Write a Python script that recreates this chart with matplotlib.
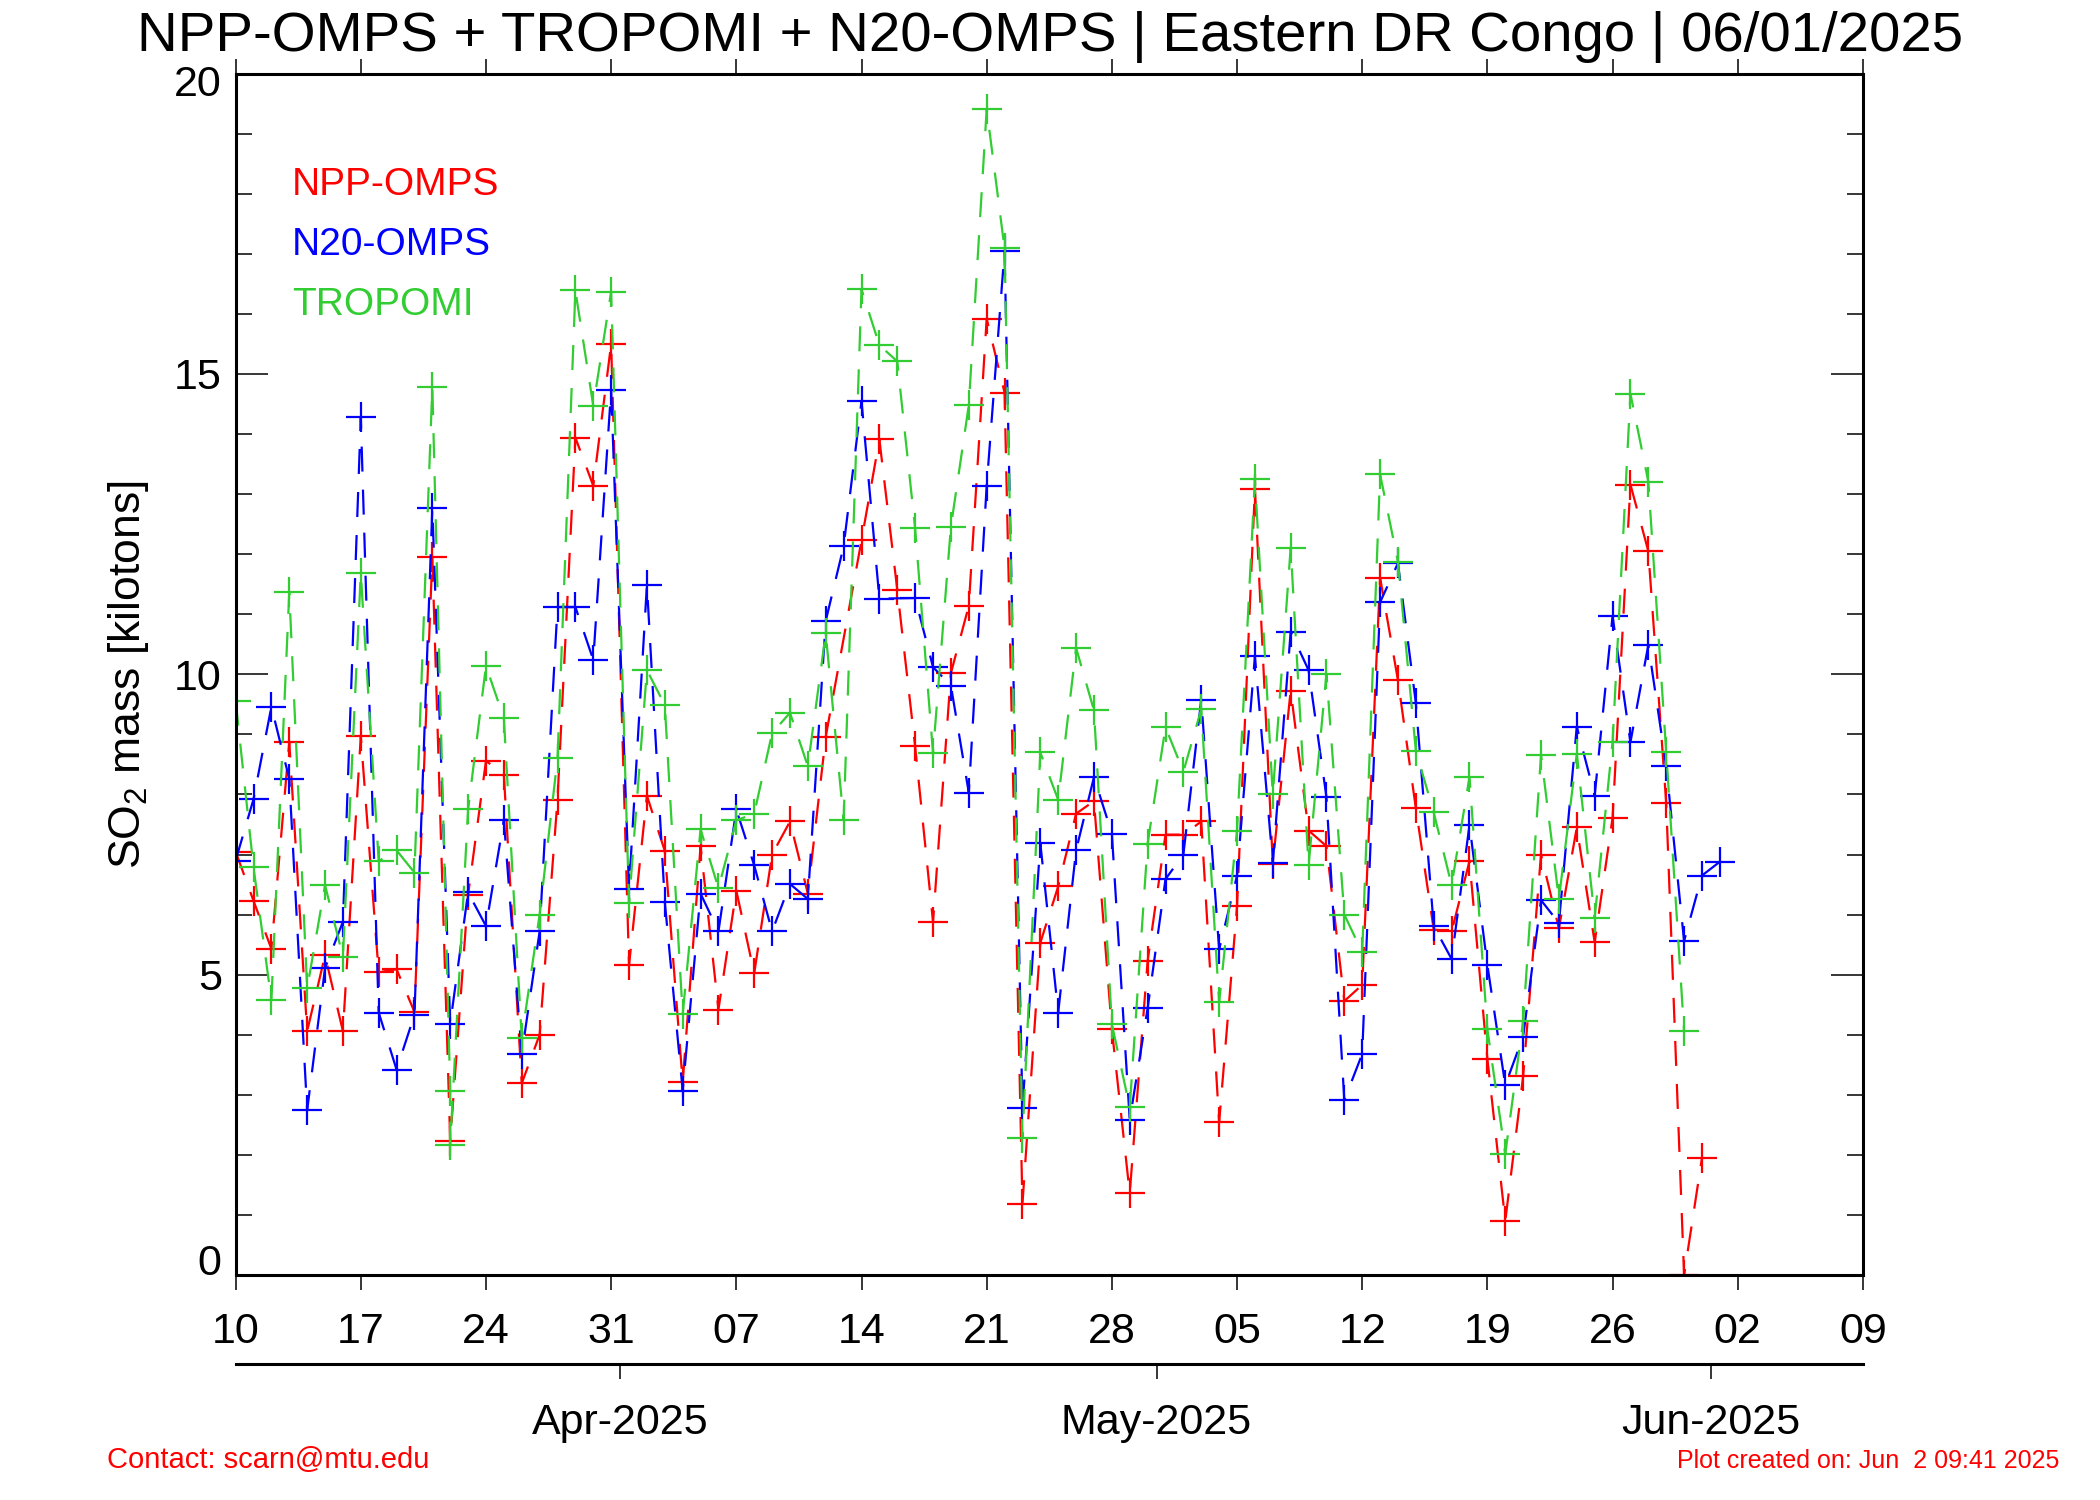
import numpy as np
import matplotlib
matplotlib.use("Agg")
import matplotlib.pyplot as plt
import matplotlib.dates as mdates
import matplotlib.transforms as mtransforms
from matplotlib.ticker import MultipleLocator, FixedLocator

plt.rcParams["font.family"] = ["Liberation Sans", "DejaVu Sans"]
plt.rcParams["mathtext.fontset"] = "custom"
plt.rcParams["mathtext.rm"] = "Liberation Sans"
plt.rcParams["lines.scale_dashes"] = False

# -------------------------------------------------------------
# data: day offset from 10 Mar 2025, SO2 mass in kilotons
# -------------------------------------------------------------
START = np.datetime64("2025-03-10")

npp_days = list(range(0, 34)) + list(range(35, 83))
npp_vals = [7.05, 6.23, 5.43, 8.87, 4.06, 5.32, 4.06, 8.97, 5.04, 5.09,
            4.38, 11.96, 2.23, 6.33, 8.56, 8.33, 3.19, 4.00, 7.91, 13.94,
            13.14, 15.50, 5.16, 7.98, 7.06, 3.21, 7.14, 4.42, 6.40, 5.02,
            7.00, 7.55, 6.35, 8.96,
            12.23, 13.91, 11.41, 8.80, 5.88, 10.02, 11.14, 15.92, 14.69, 1.18,
            5.53, 6.47, 7.68, 7.89, 4.09, 1.36, 5.23, 7.33, 7.33, 7.55,
            2.54, 6.14, 13.09, 6.85, 9.73, 7.40, 7.14, 4.56, 4.83, 11.61,
            9.90, 7.77, 5.75, 5.72, 6.89, 3.60, 0.90, 3.31, 7.00, 5.77,
            7.45, 5.54, 7.61, 13.16, 12.05, 7.86, 0.00, 1.95]

n20_days = list(range(0, 37)) + list(range(38, 84))
n20_vals = [6.90, 7.92, 9.46, 8.26, 2.74, 5.11, 5.88, 14.28, 4.37, 3.42,
            4.33, 12.77, 4.18, 6.37, 5.81, 7.57, 3.68, 5.72, 11.12, 11.12,
            10.24, 14.74, 6.43, 11.49, 6.21, 3.07, 6.35, 5.72, 7.75, 6.82,
            5.72, 6.51, 6.26, 10.89, 12.13, 14.55, 11.26,
            11.27, 10.12, 9.81, 8.03, 13.14, 17.05, 2.78, 7.19, 4.37, 7.07,
            8.29, 7.35, 2.58, 4.44, 6.59, 7.00, 9.58, 5.42, 6.65, 10.30,
            6.86, 10.71, 10.07, 7.96, 2.91, 3.68, 11.20, 11.85, 9.52, 5.81,
            5.26, 7.49, 5.16, 3.16, 3.97, 6.24, 5.86, 9.13, 7.98, 10.97,
            8.87, 10.49, 8.47, 5.56, 6.65, 6.88]

tro_days = list(range(0, 13)) + [12] + list(range(13, 82))
tro_vals = [9.56, 6.79, 4.57, 11.37, 4.77, 6.49, 5.30, 11.68, 6.89, 7.07,
            6.70, 14.79, 3.06, 2.16, 7.75, 10.14, 9.27, 3.95, 6.00, 8.60,
            16.39, 14.47, 16.37, 6.19, 10.07, 9.49, 4.34, 7.42, 6.44, 7.57,
            7.68, 9.02, 9.36, 8.47, 10.68, 7.58, 16.41, 15.48, 15.21, 12.43,
            8.69, 12.46, 14.48, 19.41, 17.09, 2.28, 8.70, 7.91, 10.44, 9.40,
            4.18, 2.79, 7.18, 9.12, 8.38, 9.42, 4.54, 7.40, 13.25, 8.00,
            12.11, 6.82, 10.01, 6.00, 5.37, 13.33, 11.87, 8.73, 7.70, 6.49,
            8.29, 4.09, 2.01, 4.23, 8.66, 6.26, 8.68, 5.95, 8.87, 14.67,
            13.21, 8.71, 4.06]

series = [
    ("NPP-OMPS", npp_days, npp_vals, "#ff0000"),
    ("N20-OMPS", n20_days, n20_vals, "#0000ff"),
    ("TROPOMI", tro_days, tro_vals, "#32cd32"),
]

month_ticks = [np.datetime64("2025-03-31T12:00"), np.datetime64("2025-04-30T12:00"),
               np.datetime64("2025-05-31T12:00")]
month_labels = ["Apr-2025", "May-2025", "Jun-2025"]

X0 = np.datetime64("2025-03-10")
X1 = np.datetime64("2025-06-09")

# -------------------------------------------------------------
# figure
# -------------------------------------------------------------
fig = plt.figure(figsize=(21, 15), dpi=100)
fig.patch.set_facecolor("white")

L, W = 0.1122, 0.7749
ax = fig.add_axes([L, 0.15, W, 0.8009])

for name, days, vals, col in series:
    x = START + np.array(days) * np.timedelta64(1, "D")
    ax.plot(x, vals, color=col, linestyle=(0, (18, 13)), linewidth=1.6,
            marker="+", markersize=21, markeredgewidth=1.6)

ax.set_xlim(X0, X1)
ax.set_ylim(0, 20)

# x axis: days every week, ticks outward top and bottom
day_ticks = np.arange(X0, X1 + np.timedelta64(1, "D"), 7)
ax.xaxis.set_major_locator(FixedLocator(mdates.date2num(day_ticks)))
ax.xaxis.set_major_formatter(mdates.DateFormatter("%d"))
ax.tick_params(axis="x", which="major", direction="out", length=10.5, width=1.1,
               top=True, labeltop=False, labelsize=31, pad=16)

# y axis
ax.set_yticks([0, 5, 10, 15, 20])
ax.yaxis.set_minor_locator(MultipleLocator(1))
ax.tick_params(axis="y", which="major", direction="in", length=23, width=1.1,
               right=True, labelsize=31, pad=10)
ax.tick_params(axis="y", which="minor", direction="in", length=11.5, width=1.1,
               right=True)
ylabs = ax.get_yticklabels()
ylabs[0].set_verticalalignment("baseline")
ylabs[-1].set_verticalalignment("top")
ylabs[-1].set_transform(ylabs[-1].get_transform() +
                        mtransforms.ScaledTranslation(0, 6 / 72, fig.dpi_scale_trans))

for sp in ax.spines.values():
    sp.set_linewidth(2.2)

ax.set_ylabel(r"SO$_\mathregular{2}$ mass [kilotons]", fontsize=32)
ax.yaxis.set_label_coords(-0.052, 0.5)

# legend as coloured text
for i, (name, days, vals, col) in enumerate(series):
    ax.text(0.0346, 0.8993 - 0.05 * i, name, color=col, fontsize=28,
            transform=ax.transAxes, ha="left", va="baseline")

# month axis below
ax2 = fig.add_axes([L, 0.0907, W, 0.0001])
ax2.set_xlim(X0, X1)
ax2.patch.set_visible(False)
for s in ["top", "left", "right"]:
    ax2.spines[s].set_visible(False)
ax2.spines["bottom"].set_linewidth(2.2)
ax2.set_yticks([])
ax2.set_xticks(month_ticks)
ax2.set_xticklabels(month_labels)
ax2.tick_params(axis="x", direction="out", length=11, width=1.1,
                labelsize=31, pad=17)

# titles and footer
fig.text(0.5, 0.966, "NPP-OMPS + TROPOMI + N20-OMPS | Eastern DR Congo | 06/01/2025",
         ha="center", va="baseline", fontsize=40.6)
fig.text(0.051, 0.0213, "Contact: scarn@mtu.edu", color="red", fontsize=21,
         ha="left", va="baseline")
fig.text(0.9805, 0.0213, "Plot created on: Jun  2 09:41 2025", color="red",
         fontsize=18, ha="right", va="baseline")

fig.savefig("out.png", dpi=100, facecolor="white")
